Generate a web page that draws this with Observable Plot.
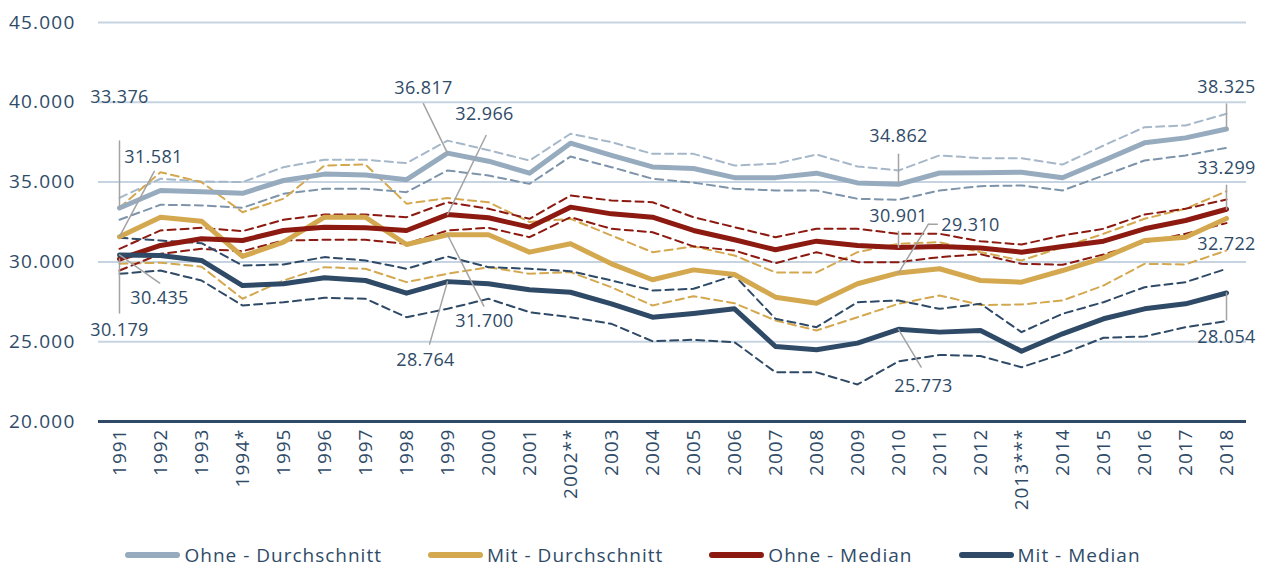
<!DOCTYPE html>
<html>
<head>
<meta charset="utf-8">
<script src="https://cdn.jsdelivr.net/npm/d3@7"></script>
<script src="https://cdn.jsdelivr.net/npm/@observablehq/plot@0.6"></script>
<style>
  html, body { margin: 0; padding: 0; background: #fff; overflow: hidden; }
  #chart svg { display: block; }
  #chart svg g[aria-label="y-axis tick label"] text { letter-spacing: 1.2px; }
  #chart svg g[aria-label="x-axis tick label"] text { letter-spacing: 1px; }
  #chart svg g[aria-label="text"] text { letter-spacing: 0.4px; }
  #legend { display: flex; justify-content: center; align-items: center; height: 26px; padding-top: 2px;
    font-family: "Open Sans", sans-serif; font-size: 19px; line-height: 26px; letter-spacing: 1px; color: #2f4b68; gap: 46px; }
  .item { display: flex; align-items: center; }
  .sw { width: 55px; height: 6px; border-radius: 3px; margin-right: 4px; }
</style>
</head>
<body>
<div id="chart"></div>
<div id="legend"></div>
<script>
const years = ["1991","1992","1993","1994*","1995","1996","1997","1998","1999","2000","2001","2002**","2003","2004","2005","2006","2007","2008","2009","2010","2011","2012","2013***","2014","2015","2016","2017","2018"];

const ohneDurch   = [33376,34475,34400,34300,35100,35500,35450,35150,36817,36310,35560,37440,36670,35950,35850,35280,35280,35560,34950,34862,35570,35580,35620,35270,36350,37460,37770,38325];
const ohneDurchHi = [34015,35210,35040,35000,35935,36400,36400,36190,37600,37000,36350,38030,37500,36770,36770,36040,36150,36730,35980,35730,36670,36500,36500,36100,37290,38440,38550,39280];
const ohneDurchLo = [32640,33580,33540,33390,34265,34580,34580,34370,35730,35415,34890,36600,35935,35210,34970,34580,34475,34475,33955,33890,34475,34745,34790,34475,35415,36350,36670,37150];

const mitDurch   = [31581,32800,32550,30340,31235,32800,32800,31090,31700,31700,30610,31135,29880,28880,29500,29210,27790,27410,28630,29310,29570,28835,28730,29460,30255,31340,31550,32722];
const mitDurchHi = [33390,35620,35000,33115,33955,36040,36100,33650,34000,33740,32500,32700,31655,30610,30965,30400,29340,29340,30610,31135,31235,30610,30090,30920,31760,32700,33330,34430];
const mitDurchLo = [29880,29950,29700,27690,28835,29670,29570,28730,29255,29670,29255,29360,28415,27270,27850,27410,26330,25700,26535,27375,27900,27300,27330,27580,28520,29880,29840,30715];

const ohneMed   = [30179,31030,31450,31340,31970,32175,32135,31970,32966,32765,32175,33430,33010,32800,31970,31385,30760,31300,31030,30901,30965,30870,30610,30965,31300,32075,32595,33299];
const ohneMedHi = [30820,31970,32135,31925,32640,32970,32970,32800,33740,33330,32700,34160,33850,33740,32800,32175,31550,32075,32075,31760,31760,31290,31090,31655,32075,32970,33330,33910];
const ohneMedLo = [29460,30505,30820,30670,31340,31385,31385,31135,31970,32135,31550,32800,32075,31860,30970,30715,29920,30610,29985,29985,30300,30480,29880,29820,30465,31235,31760,32430];

const mitMed   = [30435,30400,30090,28520,28630,29005,28835,28040,28764,28630,28250,28100,27375,26535,26770,27060,24700,24490,24910,25773,25600,25700,24405,25495,26435,27060,27375,28054];
const mitMedHi = [31510,31340,31175,29775,29840,30300,30090,29570,30340,29670,29570,29420,28835,28210,28315,29150,26435,25910,27475,27580,27060,27375,25600,26750,27475,28415,28730,29570];
const mitMedLo = [29255,29460,28835,27270,27475,27750,27690,26535,27060,27690,26850,26535,26120,25030,25120,24970,23080,23080,22320,23770,24170,24100,23400,24240,25245,25325,25910,26285];

const seriesNames = ["Ohne - Durchschnitt","Mit - Durchschnitt","Ohne - Median","Mit - Median"];
const yTicks = [20000,25000,30000,35000,40000,45000];

// annotated points: series index + year
const annoSeries = [0,1,2,3, 0,2,1,3, 0,2,1,3, 0,2,1,3];
const annoYears  = ["1991","1991","1991","1991","1999","1999","1999","1999","2010","2010","2010","2010","2018","2018","2018","2018"];

// ---------- styles ----------
const seriesColors = ["#97abbf","#d4a84f","#8c1a11","#2f4a66"];
const hiColors = ["#a5b7c8","#d4a84f","#8c1a11","#2f4a66"];
const loColors = ["#7d94aa","#d4a84f","#8c1a11","#2f4a66"];
const textColor = "#2f4b68";
// label offsets [dx, dy], leader [length, rotate]
const annoStyle = [
  {dx:0, dy:-111, len:67, rot:0},
  {dx:34, dy:-79, len:74, rot:28},
  {dx:0, dy:71, len:54, rot:180},
  {dx:40, dy:43, len:49, rot:125},
  {dx:-24, dy:-65, len:55, rot:-26},
  {dx:37, dy:-100, len:88, rot:26},
  {dx:37, dy:86, len:80, rot:153},
  {dx:-22, dy:79, len:65, rot:196},
  {dx:0, dy:-48, len:30, rot:0},
  {dx:0, dy:-31, len:16, rot:0},
  {dx:72, dy:-48, len:57, rot:31.5, elbow:true},
  {dx:25, dy:57, len:44, rot:149},
  {dx:0, dy:-42, len:25, rot:0},
  {dx:0, dy:-41, len:24, rot:0},
  {dx:0, dy:26, len:0, rot:0},
  {dx:0, dy:44, len:27, rot:180}
];

const mains = [ohneDurch, mitDurch, ohneMed, mitMed];
const his = [ohneDurchHi, mitDurchHi, ohneMedHi, mitMedHi];
const los = [ohneDurchLo, mitDurchLo, ohneMedLo, mitMedLo];
const toRows = arr => years.map((y, i) => ({year: y, value: arr[i]}));

const fmt = d3.formatLocale({decimal: ",", thousands: ".", grouping: [3], currency: ["", "€"]}).format(",d");

const leaderShape = { draw(context, l) { context.moveTo(0, 0); context.lineTo(0, -l); } };

const marks = [];
marks.push(Plot.ruleY(yTicks.filter(t => t > 20000), {stroke: "#c6d4e1", strokeWidth: 2}));
marks.push(Plot.ruleY([20000], {stroke: "#2f4a66", strokeWidth: 3}));
for (let s = 0; s < 4; s++) {
  marks.push(Plot.line(toRows(his[s]), {x: "year", y: "value", stroke: hiColors[s], strokeWidth: 2, strokeDasharray: "8,5"}));
  marks.push(Plot.line(toRows(los[s]), {x: "year", y: "value", stroke: loColors[s], strokeWidth: 2, strokeDasharray: "8,5"}));
}
for (let s = 0; s < 4; s++) {
  marks.push(Plot.line(toRows(mains[s]), {x: "year", y: "value", stroke: seriesColors[s], strokeWidth: 5, strokeLinejoin: "round"}));
}
annoSeries.forEach((s, k) => {
  const i = years.indexOf(annoYears[k]);
  const d = [{year: annoYears[k], value: mains[s][i]}];
  const st = annoStyle[k];
  if (st.len > 0) {
    marks.push(Plot.vector(d, {x: "year", y: "value", length: st.len, rotate: st.rot, anchor: "start", shape: leaderShape, stroke: "#a3a3a3", strokeWidth: 1.5}));
  }
  if (st.elbow) {
    const r = st.rot * Math.PI / 180;
    marks.push(Plot.vector(d, {x: "year", y: "value", length: 9, rotate: 90, anchor: "start", shape: leaderShape, stroke: "#a3a3a3", strokeWidth: 1.5,
      dx: st.len * Math.sin(r), dy: -st.len * Math.cos(r)}));
  }
  marks.push(Plot.text(d, {x: "year", y: "value", text: r => fmt(r.value), dx: st.dx, dy: st.dy, fill: textColor, fontSize: 18}));
});
marks.push(Plot.axisY({ticks: yTicks, tickSize: 0, tickPadding: 23, tickFormat: fmt, fontSize: 19, label: null}));
marks.push(Plot.axisX({tickRotate: -90, tickSize: 0, tickPadding: 7, fontSize: 19, label: null}));

const chart = Plot.plot({
  width: 1266, height: 540,
  marginLeft: 98, marginRight: 20, marginTop: 22, marginBottom: 119,
  x: {type: "point", domain: years, padding: 0.5},
  y: {domain: [20000, 45000]},
  style: {fontFamily: "'Open Sans', sans-serif", color: textColor, background: "white"},
  marks
});
document.getElementById("chart").appendChild(chart);

const legend = document.getElementById("legend");
seriesNames.forEach((n, s) => {
  const it = document.createElement("div"); it.className = "item";
  const sw = document.createElement("div"); sw.className = "sw"; sw.style.background = seriesColors[s];
  const tx = document.createElement("span"); tx.textContent = n;
  it.appendChild(sw); it.appendChild(tx); legend.appendChild(it);
});
</script>
</body>
</html>
